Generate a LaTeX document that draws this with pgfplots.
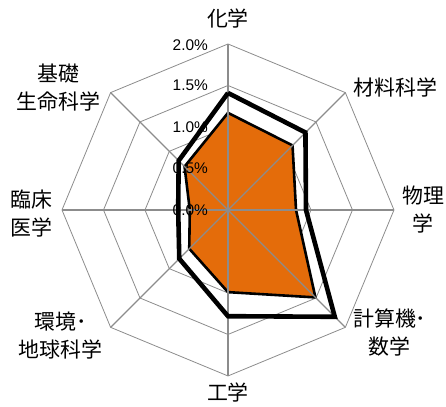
\documentclass[border=0pt]{standalone}
\usepackage{pgfplots}
\pgfplotsset{compat=1.18}
\usepackage{fontspec}
\setmainfont{Liberation Sans}
\newfontfamily\cjk{Noto Sans CJK JP}
\definecolor{fillorange}{HTML}{E46C0A}
\definecolor{gridgray}{HTML}{8C8C8C}
\tikzset{
  cat/.style={font=\cjk\fontsize{21}{28}\selectfont, align=center},
  tl/.style={font=\fontsize{15.5}{18}\selectfont, anchor=east, inner sep=0pt},
}

\begin{document}
\begin{tikzpicture}
\begin{axis}[
  x=83bp, y=83bp,
  xmin=-2, xmax=2, ymin=-2, ymax=2,
  hide axis,
  clip=false,
  every axis plot/.append style={data cs=polar},
]
% rings
\addplot[gridgray, line width=0.8bp] coordinates {(90,0.5) (45,0.5) (0,0.5) (-45,0.5) (-90,0.5) (-135,0.5) (180,0.5) (135,0.5) (90,0.5)};
\addplot[gridgray, line width=0.8bp] coordinates {(90,1.0) (45,1.0) (0,1.0) (-45,1.0) (-90,1.0) (-135,1.0) (180,1.0) (135,1.0) (90,1.0)};
\addplot[gridgray, line width=0.8bp] coordinates {(90,1.5) (45,1.5) (0,1.5) (-45,1.5) (-90,1.5) (-135,1.5) (180,1.5) (135,1.5) (90,1.5)};
\addplot[gridgray, line width=0.8bp] coordinates {(90,2.0) (45,2.0) (0,2.0) (-45,2.0) (-90,2.0) (-135,2.0) (180,2.0) (135,2.0) (90,2.0)};
% series 1 (filled)
\addplot[fill=fillorange, draw=black, line width=2.6bp, line join=miter] coordinates {
  (90,1.17) (45,1.10) (0,0.82) (-45,1.49) (-90,0.99) (-135,0.66) (180,0.46) (135,0.74) (90,1.17)};
% spokes
\addplot[gridgray, line width=1.2bp] coordinates {(90,2) (-90,2)};
\addplot[gridgray, line width=1.2bp] coordinates {(45,2) (-135,2)};
\addplot[gridgray, line width=1.2bp] coordinates {(0,2) (180,2)};
\addplot[gridgray, line width=1.2bp] coordinates {(-45,2) (135,2)};
% series 2 (line)
\addplot[black, line width=4.6bp, line join=miter] coordinates {
  (90,1.41) (45,1.32) (0,0.94) (-45,1.82) (-90,1.28) (-135,0.83) (180,0.60) (135,0.84) (90,1.41)};
% tick labels
\node[tl] at (axis cs:-0.24,1.99) {2.0\%};
\node[tl] at (axis cs:-0.24,1.50) {1.5\%};
\node[tl] at (axis cs:-0.24,1.00) {1.0\%};
\node[tl] at (axis cs:-0.24,0.50) {0.5\%};
\node[tl] at (axis cs:-0.24,0.00) {0.0\%};
% category labels
\node[cat] at (axis cs:0,2.31) {化学};
\node[cat] at (axis cs:2.02,1.47) {材料科学};
\node[cat] at (axis cs:2.35,0) {物理\\学};
\node[cat] at (axis cs:1.95,-1.48) {計算機･\\数学};
\node[cat] at (axis cs:0,-2.2) {工学};
\node[cat] at (axis cs:-2.02,-1.51) {環境･\\地球科学};
\node[cat] at (axis cs:-2.37,-0.04) {臨床\\医学};
\node[cat] at (axis cs:-2.04,1.47) {基礎\\生命科学};
\coordinate (bl) at (axis cs:-2.747,-2.373);
\coordinate (tr) at (axis cs:2.627,2.530);
\end{axis}
\pgfresetboundingbox
\path[use as bounding box] (bl) rectangle (tr);
\end{tikzpicture}
\end{document}
